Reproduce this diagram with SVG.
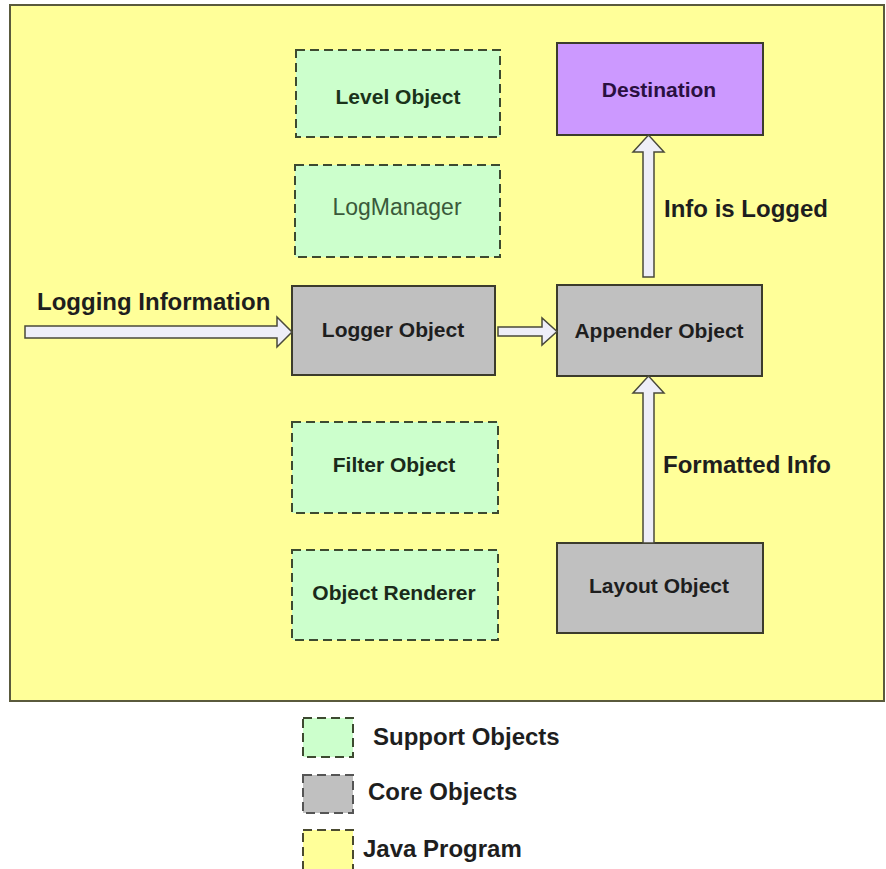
<svg xmlns="http://www.w3.org/2000/svg" width="886" height="869" viewBox="0 0 886 869">
<style>
.bg{fill:#ffff99;stroke:#5a5a3c;stroke-width:2}
.sup{fill:#ccffcc;stroke:#3d4a30;stroke-width:2;stroke-dasharray:9 5}
.core{fill:#c0c0c0;stroke:#3c3c2c;stroke-width:2}
.dest{fill:#cc99ff;stroke:#3c3c2c;stroke-width:2}
.lbl{font-family:"Liberation Sans",Arial,sans-serif;font-weight:bold;font-size:21px;fill:#1e1e1e;text-anchor:middle}
.big{font-family:"Liberation Sans",Arial,sans-serif;font-weight:bold;font-size:24px;fill:#1e1e1e}
.arr{fill:#eeeef8;stroke:#4a4a3a;stroke-width:1.5;stroke-linejoin:miter}
</style>
<rect class="bg" x="10" y="5" width="874" height="696"/>
<g id="level-object"><rect class="sup" x="296" y="50" width="204" height="87"/><text class="lbl" x="398" y="104" style="fill:#1a331a">Level Object</text></g>
<g id="logmanager"><rect class="sup" x="295" y="165" width="205" height="92"/><text x="397" y="215" style="font-family:'Liberation Sans',Arial,sans-serif;font-size:23px;fill:#3a5a3a;text-anchor:middle">LogManager</text></g>
<g id="logger-object"><rect class="core" x="292" y="286" width="203" height="89"/><text class="lbl" x="393" y="337">Logger Object</text></g>
<g id="filter-object"><rect class="sup" x="292" y="422" width="206" height="91"/><text class="lbl" x="394" y="472" style="fill:#1a2a1a">Filter Object</text></g>
<g id="object-renderer"><rect class="sup" x="292" y="550" width="206" height="90"/><text class="lbl" x="394" y="600" style="fill:#1a2a1a">Object Renderer</text></g>
<g id="destination"><rect class="dest" x="557" y="43" width="206" height="92"/><text class="lbl" x="659" y="97" style="fill:#2a1040">Destination</text></g>
<g id="appender-object"><rect class="core" x="557" y="285" width="205" height="91"/><text class="lbl" x="659" y="338">Appender Object</text></g>
<g id="layout-object"><rect class="core" x="557" y="543" width="206" height="90"/><text class="lbl" x="659" y="593">Layout Object</text></g>
<g id="connectors">
<path class="arr" d="M25,326 H277 V317 L292,332 L277,347 V338 H25 Z"/>
<path class="arr" d="M498,327 H542 V318 L557,331.5 L542,345 V336 H498 Z"/>
<path class="arr" d="M643,277 V152 H633 L648.5,135 L664,152 H654 V277 Z"/>
<path class="arr" d="M643,543 V393 H633 L648.5,376 L664,393 H654 V543 Z"/>
<text class="big" x="37" y="310">Logging Information</text>
<text class="big" x="664" y="217">Info is Logged</text>
<text class="big" x="663" y="473">Formatted Info</text>
</g>
<g id="legend">
<rect x="303" y="718" width="50" height="39" style="fill:#ccffcc;stroke:#3d4a30;stroke-width:2;stroke-dasharray:9 5"/>
<text class="big" x="373" y="745">Support Objects</text>
<rect x="303" y="775" width="50" height="38" style="fill:#c0c0c0;stroke:#555555;stroke-width:2;stroke-dasharray:9 5"/>
<text class="big" x="368" y="800">Core Objects</text>
<rect x="303" y="830" width="50" height="40" style="fill:#ffff99;stroke:#4a4a30;stroke-width:2;stroke-dasharray:9 5"/>
<text class="big" x="363" y="857">Java Program</text>
</g>
</svg>
